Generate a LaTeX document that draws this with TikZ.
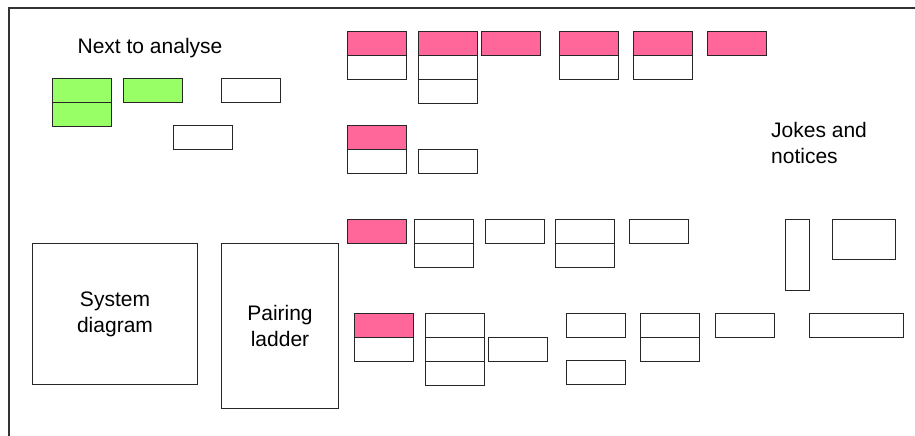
\documentclass[tikz,border=0pt]{standalone}
\usepackage{fontspec}
\setmainfont{Liberation Sans}
\usetikzlibrary{positioning}
\tikzset{
    card/.style = {rectangle, draw=black!85, line width=1pt, anchor=north west, inner sep=0pt, minimum width=59pt, minimum height=24pt},
    cardw/.style = {card, fill=white},
    cardp/.style = {card, fill=pinkcard},
    cardg/.style = {card, fill=greencard},
    caption/.style = {align=left, inner sep=0pt, font=\fontsize{21}{26}\selectfont},
    board/.style = {caption, rectangle, draw=black!85, line width=1pt, anchor=north west, inner sep=0pt, align=center},
    frameline/.style = {draw=black!80, line width=1.2pt}
}
\definecolor{pinkcard}{RGB}{255,102,153}
\definecolor{greencard}{RGB}{153,255,102}
\begin{document}
\begin{tikzpicture}[x=1pt,y=-1pt]
\useasboundingbox (0,0) rectangle (915,436);
%
\coordinate (tl) at (9,8);
\coordinate (tr) at (915,8);
\coordinate (bl) at (9,436);
\draw[frameline] (tr) -- (tl) -- (bl);
%
\node[caption,anchor=center] at (150,48) (next) {Next to analyse};
\node[cardg] at (52,78)  (g1) {};
\node[cardg] at (52,102) (g2) {};
\node[cardg] at (123,78) (g3) {};
\node[cardw] at (221,78) (n1) {};
\node[cardw] at (173,125) (n2) {};
%
\node[cardp] at (347,31)  (a1) {};
\node[cardw] at (347,55)  (a2) {};
\node[cardp] at (418,31)  (b1) {};
\node[cardw] at (418,55)  (b2) {};
\node[cardw] at (418,79)  (b3) {};
\node[cardp] at (481,31)  (c1) {};
\node[cardp] at (559,31)  (d1) {};
\node[cardw] at (559,55)  (d2) {};
\node[cardp] at (633,31)  (e1) {};
\node[cardw] at (633,55)  (e2) {};
\node[cardp] at (707,31)  (f1) {};
%
\node[cardp] at (347,125) (h1) {};
\node[cardw] at (347,149) (h2) {};
\node[cardw] at (418,149) (i1) {};
%
\node[caption,anchor=north west] at (771,122) (jokes) {Jokes and\\notices};
%
\node[cardp] at (347,219) (j1) {};
\node[cardw] at (414,219) (k1) {};
\node[cardw] at (414,243) (k2) {};
\node[cardw] at (485,219) (l1) {};
\node[cardw] at (555,219) (m1) {};
\node[cardw] at (555,243) (m2) {};
\node[cardw] at (629,219) (o1) {};
\node[cardw,minimum width=24pt,minimum height=71pt] at (785,219) (q1) {};
\node[cardw,minimum width=63pt,minimum height=40pt] at (832,219) (r1) {};
%
\node[board,minimum width=165pt,minimum height=141pt] at (32,243) (sys) {System\\diagram};
\node[board,minimum width=117pt,minimum height=165pt] at (221,243) (ladder) {Pairing\\ladder};
%
\node[cardp] at (354,313) (s1) {};
\node[cardw] at (354,337) (s2) {};
\node[cardw] at (425,313) (t1) {};
\node[cardw] at (425,337) (t2) {};
\node[cardw] at (425,361) (t3) {};
\node[cardw] at (488,337) (u1) {};
\node[cardw] at (566,313) (v1) {};
\node[cardw] at (566,360) (v2) {};
\node[cardw] at (640,313) (w1) {};
\node[cardw] at (640,337) (w2) {};
\node[cardw] at (715,313) (x1) {};
\node[cardw,minimum width=94pt] at (809,313) (y1) {};
\end{tikzpicture}
\end{document}
